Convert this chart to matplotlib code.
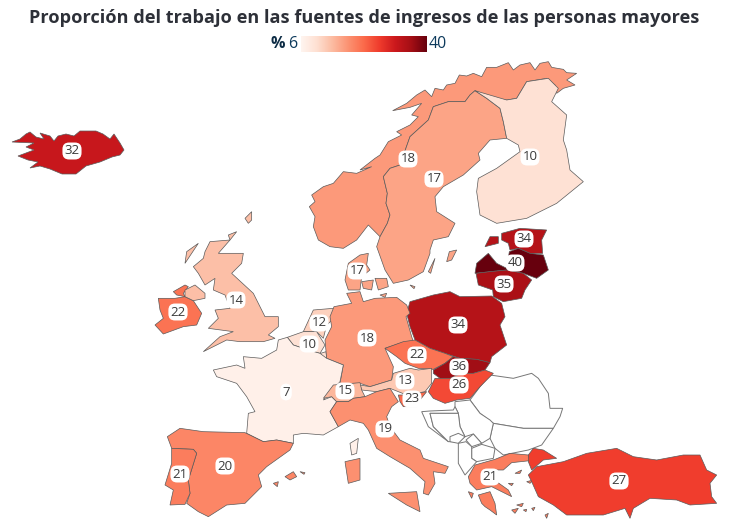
import matplotlib
matplotlib.use("Agg")
import matplotlib.pyplot as plt
import numpy as np
from matplotlib.patches import Polygon

plt.rcParams['font.family'] = ['Open Sans', 'DejaVu Sans']

title = 'Proporción del trabajo en las fuentes de ingresos de las personas mayores'

# country values, no_data ones stay white
countries = ['Iceland', 'Norway', 'Sweden', 'Finland', 'Estonia', 'Latvia', 'Lithuania', 'Poland',
             'Ireland', 'UK', 'Denmark', 'Netherlands', 'Belgium', 'Germany', 'Czechia', 'France',
             'Austria', 'Switzerland', 'Slovakia', 'Hungary', 'Slovenia', 'Italy', 'Spain',
             'Portugal', 'Greece', 'Turkey']
values = [32, 18, 17, 10, 34, 40, 35, 34, 22, 14, 17, 12, 10, 18, 22, 7, 13, 15, 36, 26, 23, 19, 20, 21, 21, 27]
no_data = ['Romania', 'Bulgaria', 'Serbia', 'Croatia', 'Bosnia', 'Montenegro', 'Kosovo', 'Macedonia', 'Albania']
vmin = 6
vmax = 40


def crop(x0, y0, pts):
    return [(x0 + x / 3, y0 + y / 3) for x, y in pts]


def west(pts):
    return crop(130, 210, pts)


def east(pts):
    return crop(390, 210, pts)


def north(pts):
    return crop(300, 60, pts)


def isles(pts):
    return crop(150, 210, pts)


def aegean(pts):
    return crop(440, 420, pts)


def danish(pts):
    return crop(340, 240, pts)


shapes = {
    'Iceland': [[(12, 142), (20, 139), (26, 134), (30, 132), (36, 137), (44, 139), (40, 133), (50, 136), (54, 141),
                 (58, 136), (66, 134), (74, 136), (80, 131), (96, 131), (103, 134), (110, 139), (114, 134),
                 (120, 143), (124, 150), (120, 155), (112, 157), (100, 162), (86, 166), (76, 174), (62, 174),
                 (50, 169), (40, 166), (30, 168), (38, 162), (28, 160), (18, 156), (34, 150), (26, 147), (34, 143)]],
    'Norway': [north([(830, 40), (800, 38), (790, 28), (755, 22), (745, 5), (720, 10), (705, 30), (690, 8), (660, 15),
                      (640, 30), (625, 8), (590, 22), (560, 22), (545, 50), (520, 40), (500, 48), (478, 45),
                      (465, 70), (440, 75), (430, 90), (405, 85), (395, 110), (375, 90), (350, 105), (320, 130),
                      (278, 152), (330, 142), (365, 130), (335, 165), (355, 170), (330, 195), (290, 215), (305, 225),
                      (265, 245), (240, 285), (225, 295), (180, 330), (215, 320), (170, 340), (130, 335), (100, 370),
                      (70, 380), (35, 405), (45, 425), (28, 440), (45, 470), (40, 500), (55, 540), (90, 560),
                      (130, 565), (170, 540), (205, 495), (240, 530), (262, 490), (270, 465), (258, 430), (262, 400),
                      (250, 350), (270, 325), (300, 315), (330, 230), (385, 180), (400, 140), (445, 125), (495, 125),
                      (510, 105), (525, 92), (560, 115), (620, 120), (650, 115), (680, 65), (740, 55), (765, 75),
                      (770, 100), (790, 85), (825, 75), (800, 60)])],
    'Sweden': [north([(525, 92), (560, 115), (600, 145), (610, 185), (620, 235), (570, 240), (535, 280), (540, 300),
                      (490, 345), (430, 380), (405, 410), (410, 455), (465, 490), (445, 530), (400, 540), (390, 570)])
               + danish([(270, 40), (250, 95), (205, 120), (160, 130), (135, 90), (110, 20)])
               + north([(240, 530), (262, 490), (270, 465), (258, 430), (262, 400), (250, 350), (270, 325), (300, 315),
                        (330, 230), (385, 180), (400, 140), (445, 125), (495, 125), (510, 105)]),
               east([(170, 155), (178, 125), (200, 120), (185, 150)]),
               east([(115, 185), (135, 145), (122, 190)]),
               east([(60, 225), (75, 230), (72, 236)])],
    'Finland': [north([(525, 92), (560, 115), (600, 145), (610, 185), (620, 235), (655, 255), (660, 275), (590, 325),
                       (535, 355), (530, 395), (540, 465), (590, 490), (680, 475), (770, 430), (850, 365), (810, 330),
                       (800, 270), (790, 240), (800, 165), (755, 125), (775, 85), (745, 55), (680, 65), (650, 115),
                       (620, 120)])],
    'Estonia': [east([(335, 70), (390, 55), (470, 60), (455, 90), (458, 130), (420, 130), (385, 115), (360, 120),
                      (355, 100), (335, 90)]),
                east([(285, 110), (300, 80), (325, 80), (325, 100)])],
    'Latvia': [east([(255, 190), (260, 160), (295, 130), (320, 160), (350, 175), (358, 125), (385, 115), (420, 130),
                     (460, 135), (475, 180), (440, 205), (400, 190), (350, 180), (300, 185)])],
    'Lithuania': [east([(258, 190), (300, 185), (350, 180), (400, 190), (425, 210), (405, 240), (395, 265),
                        (340, 275), (310, 260), (308, 240), (265, 225)])],
    'Poland': [east([(50, 310), (60, 275), (130, 255), (180, 245), (210, 260), (305, 258), (335, 280), (345, 320),
                     (330, 345), (350, 405), (305, 440), (300, 458), (260, 448), (210, 445), (165, 430), (120, 415),
                     (75, 390), (60, 350)])],
    'Ireland': [isles([(25, 265), (75, 265), (105, 260), (130, 272), (155, 310), (140, 345), (100, 350), (40, 372),
                       (15, 345), (40, 325), (30, 300)]),
                isles([(70, 245), (105, 225), (115, 230), (100, 250), (105, 260), (80, 255)])],
    'UK': [isles([(180, 95), (240, 90), (205, 130), (280, 130), (275, 160), (245, 190), (310, 250), (330, 290),
                  (345, 320), (385, 320), (385, 350), (355, 375), (375, 385), (340, 395), (270, 395), (230, 390),
                  (200, 405), (160, 425), (210, 380), (250, 365), (175, 355), (205, 325), (195, 300), (240, 295),
                  (225, 255), (190, 240), (195, 205), (165, 225), (145, 190), (130, 170), (160, 145), (165, 125)]),
           isles([(105, 240), (135, 225), (165, 250), (165, 265), (130, 272), (105, 260)]),
           isles([(285, 25), (305, 5), (305, 30), (295, 40)]),
           isles([(235, 75), (260, 65), (240, 90)]),
           isles([(105, 160), (110, 125), (145, 100), (125, 130)])],
    'Denmark': [danish([(25, 70), (60, 45), (85, 40), (80, 75), (90, 90), (65, 110), (60, 150), (25, 150), (15, 120)]),
                danish([(65, 125), (100, 120), (95, 150), (70, 145)]),
                danish([(105, 115), (140, 115), (145, 140), (115, 150)]),
                danish([(120, 165), (140, 160), (135, 172)])],
    'Netherlands': [west([(520, 365), (550, 300), (610, 295), (612, 325), (590, 345), (580, 385), (560, 365)])],
    'Belgium': [west([(472, 382), (520, 365), (560, 365), (585, 405), (570, 430), (535, 420), (490, 405)]),
                west([(572, 430), (588, 425), (590, 445), (575, 445)])],
    'Germany': [west([(612, 290), (665, 280), (650, 250), (690, 245), (700, 275), (735, 265), (800, 262), (830, 285),
                      (840, 310), (828, 320), (845, 380), (850, 395), (810, 400), (765, 415), (790, 470), (785, 510),
                      (720, 530), (690, 520), (630, 520), (640, 465), (590, 445), (585, 390), (605, 350), (600, 320)])],
    'Czechia': [east([(-15, 415), (40, 395), (75, 390), (120, 415), (165, 430), (190, 440), (165, 460), (130, 478),
                      (85, 475), (45, 460), (20, 440)])],
    'France': [west([(445, 390), (472, 382), (490, 405), (535, 420), (570, 430), (590, 445), (640, 465), (630, 515),
                     (580, 570), (605, 560), (620, 575), (600, 605), (625, 650), (580, 675), (520, 670), (490, 675),
                     (490, 700), (440, 690), (400, 695), (350, 670), (355, 610), (375, 605), (350, 560), (320, 520),
                     (260, 500), (250, 480), (320, 465), (345, 475), (340, 440), (395, 445), (440, 420)]),
               west([(660, 700), (685, 685), (680, 730), (665, 735)])],
    'Austria': [west([(690, 525), (720, 530), (785, 510), (790, 490), (840, 475), (865, 480), (905, 475), (905, 520),
                      (885, 545), (830, 555), (780, 535), (740, 545), (695, 540)])],
    'Switzerland': [west([(580, 565), (610, 525), (690, 518), (695, 540), (705, 560), (670, 565), (655, 575),
                          (620, 575), (605, 560)])],
    'Slovakia': [east([(130, 480), (165, 460), (190, 440), (210, 445), (260, 448), (300, 458), (285, 480), (250, 490),
                       (215, 490), (180, 505), (150, 505), (130, 490)])],
    'Hungary': [east([(115, 545), (135, 505), (150, 505), (180, 505), (215, 490), (250, 490), (285, 480), (310, 490),
                      (270, 530), (240, 565), (200, 570), (165, 580), (130, 565)])],
    'Slovenia': [east([(25, 555), (60, 555), (110, 545), (90, 570), (80, 590), (40, 590), (30, 575)])],
    'Italy': [west([(600, 605), (620, 575), (655, 575), (670, 565), (705, 560), (740, 545), (780, 535), (805, 575),
                    (785, 590), (770, 620), (780, 650), (810, 690), (870, 720), (880, 745), (955, 770), (945, 790),
                    (910, 785), (915, 820), (895, 855), (880, 850), (885, 815), (840, 775), (780, 740), (740, 715),
                    (715, 660), (700, 640), (660, 630), (625, 650)]),
              west([(645, 755), (690, 745), (690, 810), (655, 820)]),
              west([(775, 850), (860, 845), (870, 905), (830, 885)])],
    'Spain': [west([(112, 680), (150, 655), (220, 665), (345, 668), (400, 695), (440, 690), (490, 700), (480, 720),
                    (410, 770), (385, 795), (395, 830), (345, 880), (290, 885), (235, 920), (205, 905), (170, 880),
                    (180, 850), (175, 810), (200, 730), (190, 718), (125, 715)]),
              west([(465, 800), (490, 785), (500, 800), (480, 810)]),
              west([(510, 785), (525, 788), (522, 793)]),
              west([(430, 820), (445, 815), (442, 830)])],
    'Portugal': [west([(125, 715), (190, 718), (200, 730), (175, 810), (180, 850), (165, 883), (120, 885), (130, 840),
                       (105, 825), (125, 760)])],
    'Greece': [aegean([(85, 170), (105, 135), (165, 118), (210, 100), (265, 105), (270, 122), (215, 128), (190, 150),
                       (170, 150), (170, 185), (205, 210), (215, 230), (185, 215), (155, 200), (110, 210), (90, 190)]),
               aegean([(115, 225), (150, 215), (165, 250), (170, 285), (150, 270), (135, 260), (125, 250)]),
               aegean([(85, 215), (100, 220), (95, 235)]),
               aegean([(225, 160), (245, 150), (240, 160)]),
               aegean([(260, 185), (280, 180), (270, 190)]),
               aegean([(205, 190), (220, 190), (215, 197)]),
               aegean([(230, 255), (250, 250), (245, 260)]),
               aegean([(215, 270), (235, 265), (225, 280)]),
               aegean([(250, 270), (260, 268), (258, 275)]),
               aegean([(275, 265), (285, 262), (280, 272)]),
               aegean([(315, 285), (325, 280), (320, 295)])],
    'Turkey': [aegean([(265, 105), (280, 85), (310, 90), (350, 115), (310, 120), (275, 150), (265, 125)]),
               east([(415, 795), (440, 770), (520, 755), (590, 730), (680, 715), (730, 740), (800, 750), (880, 735),
                     (930, 735), (950, 780), (980, 795), (960, 820), (965, 860), (980, 880), (900, 885), (860, 870),
                     (780, 865), (730, 895), (720, 925), (705, 895), (640, 915), (530, 915), (490, 885), (445, 860),
                     (425, 815)])],
    'Romania': [east([(300, 495), (370, 505), (425, 490), (445, 505), (475, 550), (480, 595), (518, 595), (510, 620),
                      (490, 655), (400, 655), (310, 640), (270, 610), (240, 570), (270, 530)])],
    'Bulgaria': [east([(310, 640), (400, 655), (490, 655), (455, 705), (415, 720), (340, 735), (315, 715),
                       (300, 685)])],
    'Serbia': [east([(195, 575), (240, 570), (270, 610), (300, 630), (310, 640), (300, 685), (275, 700), (250, 672),
                     (225, 680), (210, 650), (205, 610), (195, 590)])],
    'Croatia': [east([(95, 605), (120, 603), (190, 600), (195, 590), (205, 610), (120, 610), (130, 650), (175, 695),
                      (115, 650)])],
    'Bosnia': [east([(120, 610), (205, 610), (210, 650), (225, 680), (205, 695), (175, 695), (130, 650)])],
    'Montenegro': [east([(180, 680), (205, 670), (225, 680), (205, 700), (180, 695)])],
    'Kosovo': [east([(228, 690), (250, 672), (275, 700), (245, 710)])],
    'Macedonia': [east([(245, 715), (275, 703), (315, 715), (310, 745), (260, 755), (245, 745)])],
    'Albania': [east([(205, 700), (228, 695), (245, 710), (245, 745), (260, 755), (225, 795), (205, 760)])],
}

# where each value label sits
label_x = [72, 408, 434, 530, 524, 515, 504, 458, 178, 236, 357, 319, 309, 367, 417, 286, 405, 345, 459, 459, 412, 385, 225, 180, 490, 619]
label_y = [151, 159, 179, 157, 239, 263, 284, 325, 312, 300, 271, 323, 344, 338, 355, 392, 381, 391, 367, 385, 399, 429, 466, 474, 477, 481]

cmap = plt.get_cmap('Reds')
colors = cmap((np.array(values) - vmin) / (vmax - vmin))

fig = plt.figure(figsize=(7.3, 5.2), dpi=100)
ax = fig.add_axes([0, 0, 1, 1])
ax.set_xlim(0, 730)
ax.set_ylim(520, 0)
ax.axis('off')

for name in no_data:
    for pts in shapes[name]:
        ax.add_patch(Polygon(pts, closed=True, facecolor='white', edgecolor='#777777', linewidth=0.7))

for name, color in zip(countries, colors):
    for pts in shapes[name]:
        ax.add_patch(Polygon(pts, closed=True, facecolor=color, edgecolor='#5a5a5a', linewidth=0.5))

for x, y, v in zip(label_x, label_y, values):
    ax.text(x, y, str(v), ha='center', va='center', fontsize=9.5, color='#3a3a3a',
            bbox=dict(boxstyle='round,pad=0.15,rounding_size=0.5', facecolor='white', edgecolor='none'))

ax.text(364, 18, title, ha='center', va='center', fontsize=13.05, fontweight='bold', color='#2d3038')

# legend
ax.text(285, 44, '%', ha='right', va='center', fontsize=11.5, fontweight='bold', color='#0d2c45')
ax.text(288, 44, '6', ha='left', va='center', fontsize=11.5, color='#0d3a5c')
ax.text(429, 44, '40', ha='left', va='center', fontsize=11.5, color='#0d3a5c')
bar = fig.add_axes([301 / 730, 1 - 52 / 520, 126 / 730, 16 / 520])
bar.imshow(np.linspace(0, 1, 256).reshape(1, -1), cmap=cmap, aspect='auto')
bar.axis('off')

fig.savefig('out.png', dpi=100)
